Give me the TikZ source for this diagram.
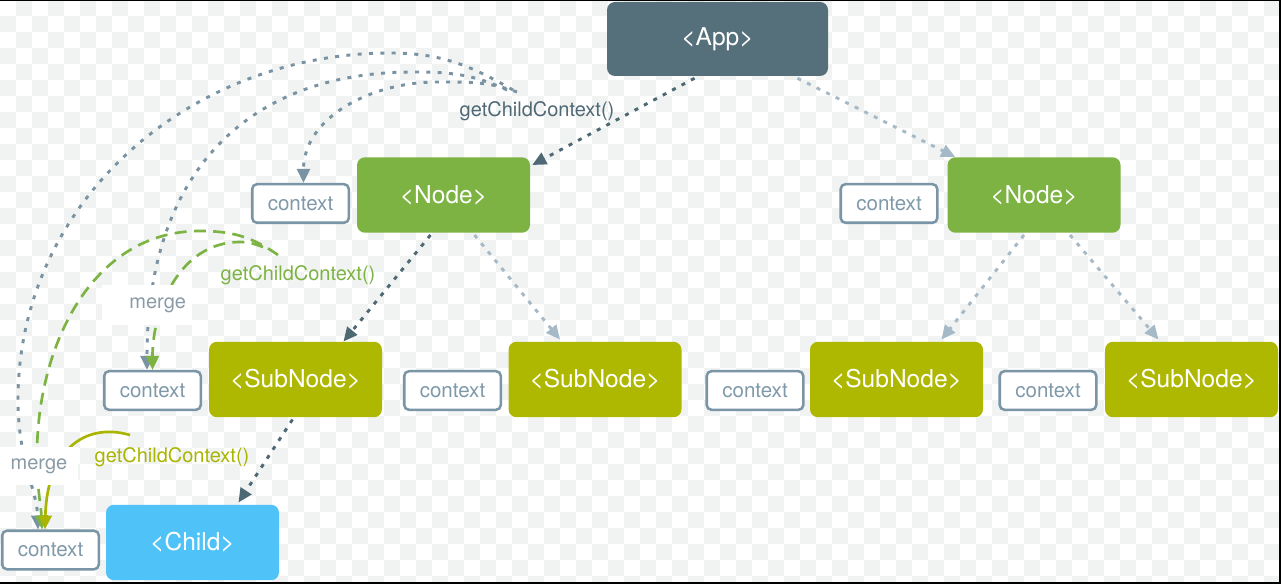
\documentclass[tikz,border=0pt]{standalone}
\usepackage{fontspec}
\setmainfont{TeX Gyre Heros}
\usetikzlibrary{arrows.meta,calc}
\definecolor{appc}{HTML}{55707B}
\definecolor{nodec}{HTML}{7CB342}
\definecolor{subc}{HTML}{AFB800}
\definecolor{childc}{HTML}{4FC3F7}
\definecolor{ctxline}{HTML}{7A95A6}
\definecolor{ctxtext}{HTML}{7F99A9}
\definecolor{darkc}{HTML}{4E6874}
\definecolor{lightc}{HTML}{A5B9C7}
\definecolor{arcc}{HTML}{7A93A3}
\definecolor{greenc}{HTML}{7CB342}
\definecolor{olivec}{HTML}{A9B500}
\definecolor{mergec}{HTML}{8A9BA6}
\definecolor{checkc}{HTML}{F1F3F3}

\begin{document}
\begin{tikzpicture}[x=0.75pt,y=-0.75pt,
  comp/.style={rounded corners=6pt, inner sep=0pt, text=white,
    font=\fontsize{18.4}{22}\selectfont,
    minimum width=129.75pt, minimum height=56.6pt},
  appbox/.style={comp, fill=appc, minimum width=165.75pt, minimum height=55.5pt},
  nodebox/.style={comp, fill=nodec},
  subbox/.style={comp, fill=subc},
  childbox/.style={comp, fill=childc},
  ctxbox/.style={draw=ctxline, line width=1.9pt, rounded corners=3.5pt, fill=white,
    text=ctxtext, inner sep=0pt, minimum width=72.4pt, minimum height=28.9pt,
    font=\fontsize{15.4}{18}\selectfont},
  mergebox/.style={fill=white, inner sep=0pt, text=mergec,
    font=\fontsize{15}{18}\selectfont},
  lbl/.style={inner sep=0pt, font=\fontsize{15}{18}\selectfont},
  headtip/.style={-{Triangle[length=10.5pt,width=9.5pt]}},
  darkflow/.style={headtip, draw=darkc, line width=2.2pt, dash pattern=on 3pt off 5pt},
  lightflow/.style={headtip, draw=lightc, line width=2.2pt, dash pattern=on 3pt off 5pt},
  arcflow/.style={headtip, draw=arcc, line width=2.2pt, dash pattern=on 3pt off 5.5pt},
  greenflow/.style={headtip, draw=greenc, line width=2pt, dash pattern=on 9pt off 5.5pt},
  oliveflow/.style={headtip, draw=olivec, line width=2pt},
]
% canvas: faint checkerboard and frame
\useasboundingbox (0,0) rectangle (1281,584);
\fill[white] (0,0) rectangle (1281,584);
\foreach \i in {0,...,80}{
  \foreach \j in {0,...,36}{
    \pgfmathtruncatemacro{\chk}{mod(\i+\j,2)}
    \ifnum\chk=1
      \fill[checkc] (16*\i,16*\j) rectangle ++(16,16);
    \fi
  }
}
\fill[black] (0,0) rectangle (1281,1.5);
\fill[black] (1278.5,0) rectangle (1281,584);
\fill[black] (0,581.5) rectangle (1281,584);

% component tree
\node[appbox] (app) at (717.5,39) {<App>};
\node[nodebox] (node1) at (443.5,195) {<Node>};
\node[nodebox] (node2) at (1034,195) {<Node>};
\node[subbox] (sub1) at (295.5,379.5) {<SubNode>};
\node[subbox] (sub2) at (595,379.5) {<SubNode>};
\node[subbox] (sub3) at (896.5,379.5) {<SubNode>};
\node[subbox] (sub4) at (1191.5,379.5) {<SubNode>};
\node[childbox] (child) at (192.5,542.5) {<Child>};

% context boxes
\node[ctxbox] (ctx1) at (300.5,203.5) {context};
\node[ctxbox] (ctx2) at (889,203.5) {context};
\node[ctxbox] (ctx3) at (152.5,390.5) {context};
\node[ctxbox] (ctx4) at (452.5,390.5) {context};
\node[ctxbox] (ctx5) at (755,390.5) {context};
\node[ctxbox] (ctx6) at (1048,390.5) {context};
\node[ctxbox] (ctx7) at (50.5,550) {context};

% parent -> child edges
\draw[darkflow] ($(app.south)+(-23,2)$) -- ($(node1.north east)+(2,8)$);
\draw[lightflow] ($(app.south)+(80,2)$) -- ($(node2.north west)+(8,0)$);
\draw[darkflow] ($(node1.south)+(-13,2)$) -- ($(sub1.north)+(48,0)$);
\draw[lightflow] ($(node1.south)+(31,2)$) -- ($(sub2.north)+(-35,-2)$);
\draw[lightflow] ($(node2.south)+(-10,2)$) -- ($(sub3.north)+(45,-2)$);
\draw[lightflow] ($(node2.south)+(36,2)$) -- ($(sub4.north)+(-33,-2)$);
\draw[darkflow] ($(sub1.south)+(-3,2)$) -- ($(child.north)+(46,-2)$);

% labels
\node[lbl, text=darkc] (gcc1) at (537,111) {getChildContext()};
\node[lbl, text=greenc] (gcc2) at (298,275) {getChildContext()};
\node[lbl, text=olivec] (gcc3) at (172,457) {getChildContext()};

% context propagated from <App>
\coordinate (a1) at (517,92);
\coordinate (a2) at (507,90);
\coordinate (a3) at (513,90);
\draw[arcflow] (a1) to[out=160,in=0] (437,82) to[out=180,in=90] ($(ctx1.north)+(3,0)$);
\draw[arcflow] (a2) to[out=155,in=0] (413,72) .. controls (250,72) and (147,170) .. ($(ctx3.north)+(-5.5,0)$);
\draw[arcflow] (a3) to[out=150,in=0] (390,53) to[out=180,in=90] (18,400)
  .. controls (18,460) and (37,490) .. ($(ctx7.north)+(-12.5,0)$);

% context propagated from <Node>
\coordinate (g1) at (263,247);
\coordinate (g2) at (278,255);
\draw[greenflow] (g1) to[out=160,in=0] (240,242) to[out=180,in=90] (ctx3.north);
\draw[greenflow] (g2) to[out=145,in=0] (200,231) to[out=180,in=90] (37,455)
  .. controls (37,490) and (41,505) .. ($(ctx7.north)+(-8.5,0)$);

% context propagated from <SubNode>
\coordinate (o1) at (130,435);
\draw[oliveflow] (o1) .. controls (85,422) and (47,450) .. ($(ctx7.north)+(-5.5,0)$);

% merge notes
\node[mergebox, minimum height=30pt, text width=58.5pt, inner xsep=4.5pt, align=right] (merge1) at (147,305) {merge};
\node[mergebox, minimum width=58.5pt, minimum height=28.5pt] (merge2) at (39,466) {merge};
\end{tikzpicture}
\end{document}
